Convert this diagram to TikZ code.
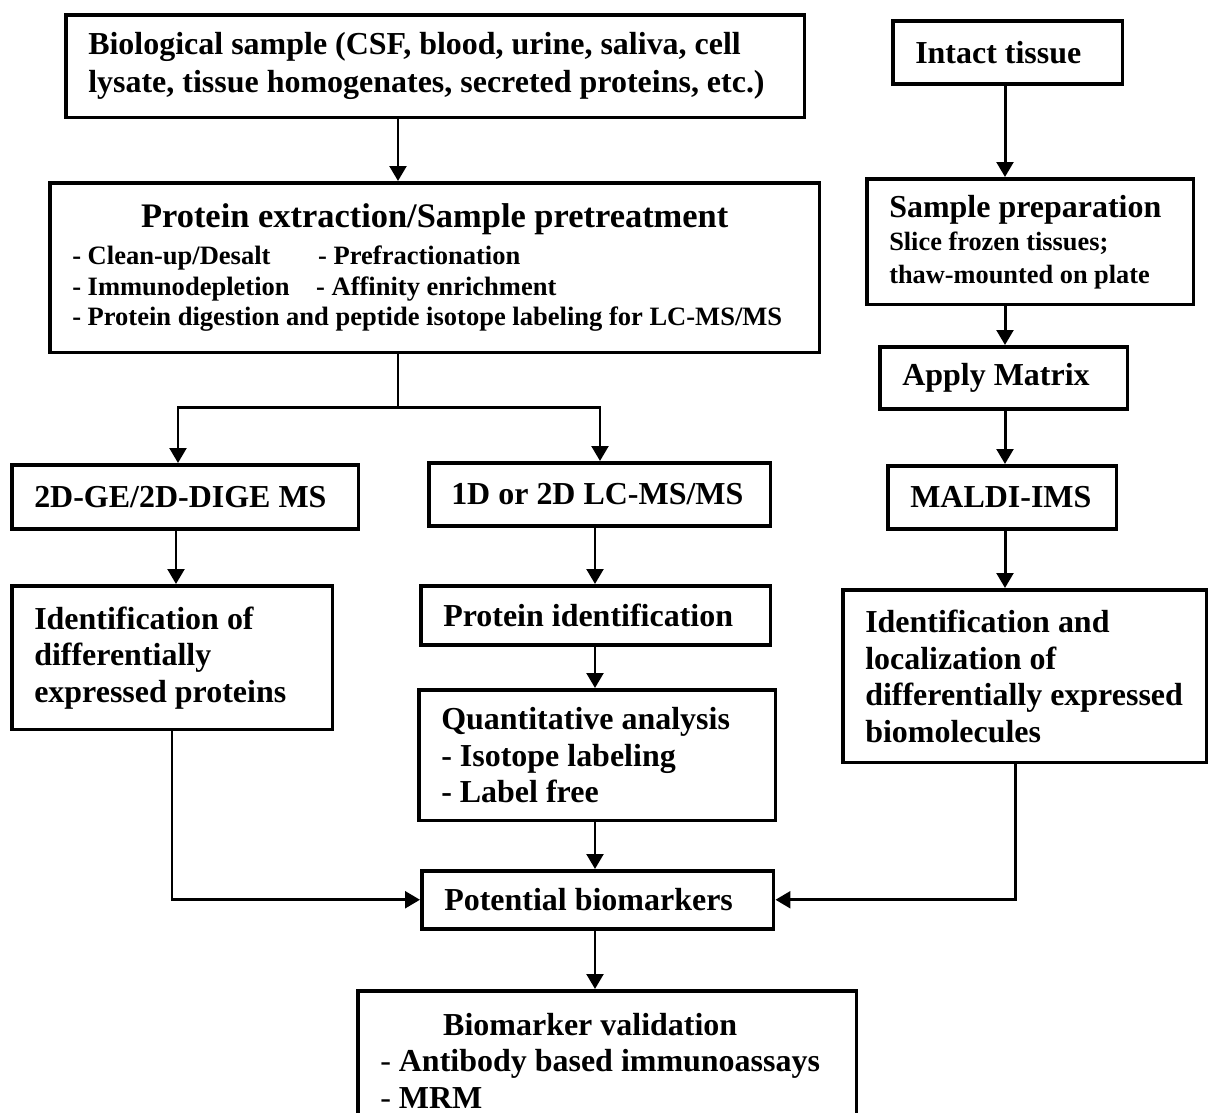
\documentclass[tikz,border=0pt]{standalone}
\usepackage{fontspec}
\setmainfont{Liberation Serif}
\usetikzlibrary{arrows.meta}

\begin{document}
\begin{tikzpicture}[x=0.02cm, y=-0.02cm,
    box/.style={draw, line width=2pt, anchor=north west, align=flush left,
                inner xsep=0.45cm, inner ysep=0pt,
                font=\bfseries\fontsize{18.2}{20.8}\selectfont},
    arr/.style={line width=1.7pt, -{Triangle[length=8.5pt, width=9.5pt]}},
    link/.style={line width=1.7pt}]

    % Fix the page size
    \useasboundingbox (0,0) rectangle (1208,1113);

    % Left side: body fluids and extracts
    \node[box, text width=13.88cm, minimum height=2.06cm,
          font=\bfseries\fontsize{18.2}{21.6}\selectfont] (sample) at (64,13)
        {Biological sample (CSF, blood, urine, saliva, cell\\
         lysate, tissue homogenates, secreted proteins, etc.)};

    \node[box, text width=14.5cm, minimum height=3.4cm,
          font=\bfseries\fontsize{15.1}{17.4}\selectfont] (pretreat) at (48,181)
        {\makebox[14.5cm]{\fontsize{19.6}{17.4}\selectfont Protein extraction/Sample pretreatment}\\[3.7pt]
         \makebox[4.92cm][l]{- Clean-up/Desalt}- Prefractionation\\
         \makebox[4.88cm][l]{- Immunodepletion}- Affinity enrichment\\
         - Protein digestion and peptide isotope labeling for LC-MS/MS};

    \node[box, text width=6.04cm, minimum height=1.28cm] (gel) at (10,463) {2D-GE/2D-DIGE MS};
    \node[box, text width=5.94cm, minimum height=1.26cm] (lcms) at (427,461) {1D or 2D LC-MS/MS};

    \node[box, text width=5.52cm, minimum height=2.88cm] (diffprot) at (10,584)
        {Identification of\\ differentially\\ expressed proteins};
    \node[box, text width=6.1cm, minimum height=1.18cm] (protid) at (419,584) {Protein identification};
    \node[box, text width=6.24cm, minimum height=2.62cm] (quant) at (417,688)
        {Quantitative analysis\\ - Isotope labeling\\ - Label free};

    \node[box, text width=6.14cm, minimum height=1.16cm] (biomark) at (420,869) {Potential biomarkers};
    \node[box, text width=9.08cm, minimum height=2.8cm] (valid) at (356,989)
        {\hspace*{1.26cm}Biomarker validation\\
         {\mdseries -} Antibody based immunoassays\\
         {\mdseries -} MRM};

    % Right side: tissue imaging
    \node[box, text width=3.7cm, minimum height=1.26cm] (tissue) at (891,19) {Intact tissue};
    \node[box, text width=5.64cm, minimum height=2.52cm,
          font=\bfseries\fontsize{15}{18.8}\selectfont] (prep) at (865,177)
        {{\fontsize{18.2}{18.8}\selectfont Sample preparation}\\
         Slice frozen tissues;\\ thaw-mounted on plate};
    \node[box, text width=4.06cm, minimum height=1.24cm] (matrix) at (878,345) {Apply Matrix};
    \node[box, text width=3.68cm, minimum height=1.26cm] (maldi) at (886,464) {MALDI-IMS};
    \node[box, text width=6.38cm, minimum height=3.46cm] (imsid) at (841,588)
        {Identification and\\ localization of\\ differentially~expressed\\ biomolecules};

    % Columns for the arrows
    \coordinate (midcol) at (398,0);
    \coordinate (split) at (398,407);
    \coordinate (leftcol) at (178,0);
    \coordinate (gelcol) at (176,0);
    \coordinate (backcol) at (172,0);
    \coordinate (rightcol) at (600,0);
    \coordinate (lccol) at (595,0);
    \coordinate (imscol) at (1005,0);
    \coordinate (returncol) at (1015,0);

    % Arrows
    \draw[arr] (sample.south -| midcol) -- (pretreat.north -| midcol);
    \draw[link] (pretreat.south -| midcol) -- (split);
    \draw[arr] (split) -| (gel.north -| leftcol);
    \draw[arr] (split) -| (lcms.north -| rightcol);
    \draw[arr] (gel.south -| gelcol) -- (diffprot.north -| gelcol);

    \foreach \a/\b in {lcms/protid, protid/quant, quant/biomark, biomark/valid} {
        \draw[arr] (\a.south -| lccol) -- (\b.north -| lccol);
    }
    \foreach \a/\b in {tissue/prep, prep/matrix, matrix/maldi, maldi/imsid} {
        \draw[arr] (\a.south -| imscol) -- (\b.north -| imscol);
    }

    \draw[arr] (diffprot.south -| backcol) |- (biomark.west);
    \draw[arr] (imsid.south -| returncol) |- (biomark.east);

\end{tikzpicture}
\end{document}
